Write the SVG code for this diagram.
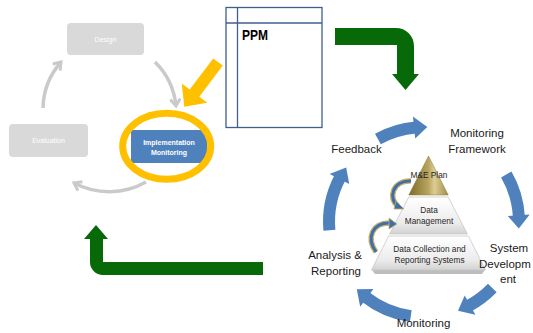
<svg xmlns="http://www.w3.org/2000/svg" width="533" height="333" viewBox="0 0 533 333">
<defs>
<style>
.gbox{fill:#d9d9d9}
.wt{fill:#ffffff;font-family:"Liberation Sans",Arial,sans-serif;font-size:7px;text-anchor:middle}
.lbl{fill:#1a1a1a;font-family:"Liberation Sans",Arial,sans-serif;font-size:11.5px}
.pt{fill:#262626;font-family:"Liberation Sans",Arial,sans-serif;font-size:8.3px;text-anchor:middle}
.garc{fill:none;stroke:#cacaca;stroke-width:3.5}
.barc{fill:none;stroke:#4f81bd;stroke-width:12}
.bhead{fill:#4f81bd}
.green{fill:#076907}
.layer{fill:url(#lg);stroke:#c8c8c8;stroke-width:0.8}
.sa1{fill:none;stroke:#c9b16a;stroke-width:5.5}
.sa2{fill:none;stroke:#3f6fa8;stroke-width:3}
</style>
<marker id="gh" markerUnits="userSpaceOnUse" markerWidth="14" markerHeight="14" refX="8" refY="6" orient="auto">
<path d="M1,1 L8,6 L1,11" fill="none" stroke="#cacaca" stroke-width="3"/>
</marker>
<linearGradient id="lg" x1="0" y1="0" x2="0" y2="1">
<stop offset="0" stop-color="#ffffff"/>
<stop offset="0.7" stop-color="#ececec"/>
<stop offset="1" stop-color="#d2d2d2"/>
</linearGradient>
<linearGradient id="gold" x1="0" y1="0" x2="1" y2="0">
<stop offset="0" stop-color="#7d6b2a"/>
<stop offset="0.5" stop-color="#b8a560"/>
<stop offset="0.65" stop-color="#dccd93"/>
<stop offset="1" stop-color="#a08d48"/>
</linearGradient>
</defs>
<rect width="533" height="333" fill="#ffffff"/>

<g id="connectors">
<path class="garc" d="M155,62 A72 72 0 0 1 176,106" marker-end="url(#gh)"/>
<path class="garc" d="M43,108 A72 72 0 0 1 61,62" marker-end="url(#gh)"/>
<path class="garc" d="M146,182 A75 75 0 0 1 74,183" marker-end="url(#gh)"/>
<polygon fill="#ffc000" transform="translate(218,62) rotate(127)" points="0,-6 39,-6 39,-16 56,0 39,16 39,6 0,6"/>
<path class="green" d="M335,28 H396 A18 18 0 0 1 414,46 V74 H419 L405.5,90 L392,74 H397 V45 H335 Z"/>
<path class="green" d="M263,262 H103 V239 H108 L96,225 L84,239 H90 V262 A13 13 0 0 0 103,275 H263 Z"/>
<path class="barc" d="M377.9,138.9 A95 95 0 0 1 415.7,127.4"/>
<polygon class="bhead" points="412.9,116.6 427.3,127.1 415.2,138.5"/>
<path class="barc" d="M506.3,174.5 A95 95 0 0 1 518.9,217.0"/>
<polygon class="bhead" points="529.7,214.6 518.8,228.6 507.8,216.1"/>
<path class="barc" d="M492.3,288.0 A95 95 0 0 1 468.6,305.9"/>
<polygon class="bhead" points="475.4,314.7 458.0,310.7 464.7,295.5"/>
<path class="barc" d="M410.8,316.1 A95 95 0 0 1 365.5,296.9"/>
<polygon class="bhead" points="360.2,306.7 356.8,289.2 373.4,289.1"/>
<path class="barc" d="M329.4,230.3 A95 95 0 0 1 340.1,177.4"/>
<polygon class="bhead" points="329.6,173.9 346.2,167.5 349.2,183.9"/>
</g>

<g id="design">
<rect class="gbox" x="67" y="23" width="77" height="32" rx="4"/>
<text class="wt" x="105.5" y="42">Design</text>
</g>
<g id="evaluation">
<rect class="gbox" x="9" y="124" width="79" height="33" rx="4"/>
<text class="wt" x="48.5" y="143">Evaluation</text>
</g>
<g id="implementation">
<rect x="131" y="130" width="76" height="33" fill="#4f81bd"/>
<text class="wt" x="169" y="144.5" font-size="6.8" font-weight="bold">Implementation</text>
<text class="wt" x="169" y="155" font-size="6.8" font-weight="bold">Monitoring</text>
<ellipse cx="166.7" cy="146.3" rx="44" ry="33" fill="none" stroke="#ffc000" stroke-width="7"/>
</g>

<g id="ppm">
<rect x="226" y="7.5" width="96" height="120" fill="#ffffff" stroke="#3f5f8f" stroke-width="1.3"/>
<line x1="237.5" y1="7.5" x2="237.5" y2="127.5" stroke="#3f5f8f" stroke-width="1.3"/>
<line x1="226" y1="23" x2="322" y2="23" stroke="#3f5f8f" stroke-width="1.3"/>
<text x="242" y="39.5" font-family="'Liberation Sans',Arial,sans-serif" font-size="14" font-weight="bold" fill="#000" textLength="26" lengthAdjust="spacingAndGlyphs">PPM</text>
</g>

<g id="pyramid">
<polygon points="372,270 485,270 482,274 375,274" fill="#bdbdbd"/>
<polygon class="layer" points="408.8,197 448.2,197 467.4,234 389.6,234"/>
<polygon class="layer" points="388.6,236 468.4,236 485.5,270 371.5,270"/>
<polygon points="428.5,156 448.2,195 408.8,195" fill="url(#gold)" stroke="#8c7a35" stroke-width="0.5"/>
<text class="pt" x="429" y="177.5">M&amp;E Plan</text>
<text class="pt" x="429" y="212.5">Data</text>
<text class="pt" x="429" y="223.5">Management</text>
<text class="pt" x="429.5" y="252">Data Collection and</text>
<text class="pt" x="429.5" y="262.5">Reporting Systems</text>
<path class="sa1" d="M411,181 C392,180 388,199 398,206"/>
<path class="sa2" d="M411,181 C392,180 388,199 398,206"/>
<polygon points="394,209 404,209 396,201" fill="#3f6fa8" stroke="#c9b16a" stroke-width="0.8"/>
<path class="sa1" d="M376,252 C366,238 372,222 391,223"/>
<path class="sa2" d="M376,252 C366,238 372,222 391,223"/>
<polygon points="389,218 397,224 389,229" fill="#3f6fa8" stroke="#c9b16a" stroke-width="0.8"/>
</g>

<g id="labels">
<text class="lbl" x="477" y="137" text-anchor="middle">Monitoring</text>
<text class="lbl" x="477" y="153" text-anchor="middle">Framework</text>
<text class="lbl" x="356.5" y="152.5" text-anchor="middle">Feedback</text>
<text class="lbl" x="509" y="252" text-anchor="middle">System</text>
<text class="lbl" x="479" y="267.5" font-size="10.4">Developm</text>
<text class="lbl" x="508" y="283" text-anchor="middle">ent</text>
<text class="lbl" x="335" y="259" text-anchor="middle">Analysis &amp;</text>
<text class="lbl" x="336" y="275" text-anchor="middle">Reporting</text>
<text class="lbl" x="423.5" y="327" text-anchor="middle">Monitoring</text>
</g>
</svg>
